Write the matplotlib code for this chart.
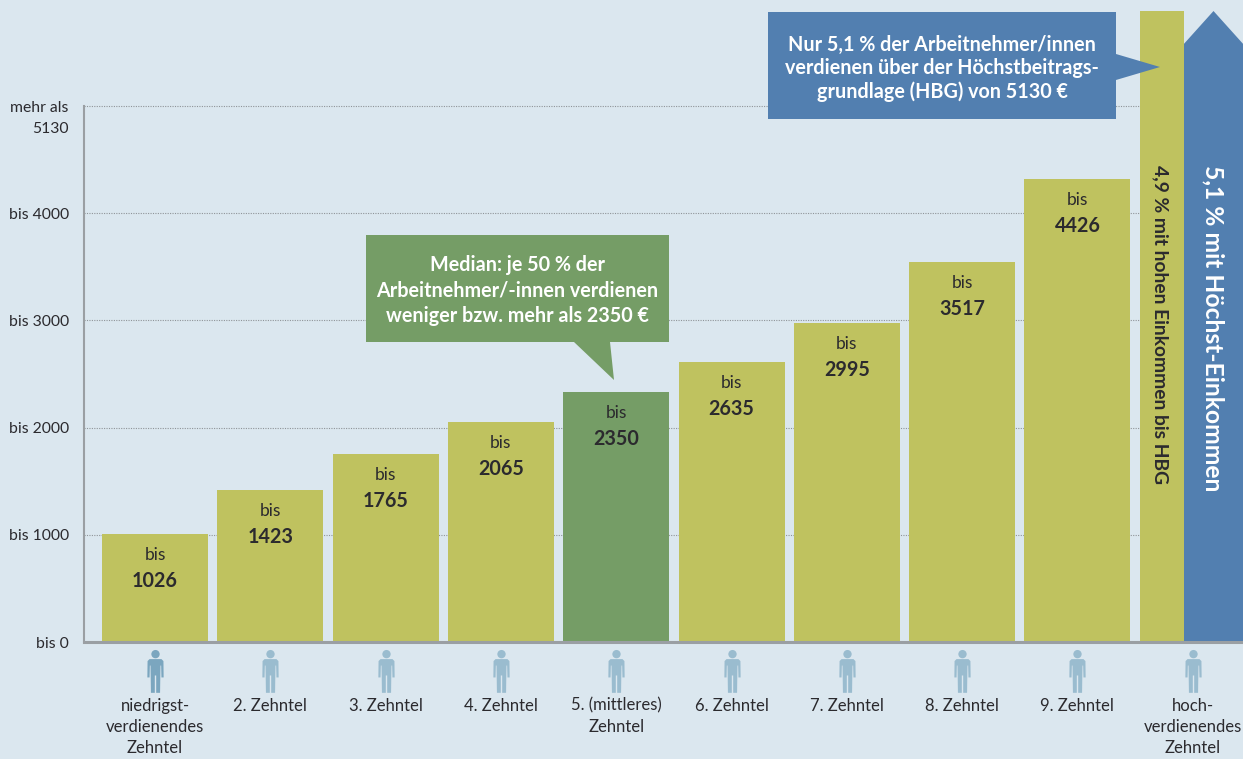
import matplotlib
matplotlib.use("Agg")
import numpy as np
import matplotlib.pyplot as plt
from matplotlib.path import Path
from matplotlib.patches import Polygon, Rectangle
from matplotlib.transforms import Affine2D, ScaledTranslation

# Daten
zehntel = ["niedrigst-\nverdienendes\nZehntel", "2. Zehntel", "3. Zehntel", "4. Zehntel",
           "5. (mittleres)\nZehntel", "6. Zehntel", "7. Zehntel", "8. Zehntel", "9. Zehntel",
           "hoch-\nverdienendes\nZehntel"]
werte = [1026, 1423, 1765, 2065, 2350, 2635, 2995, 3517, 4426]
# Balkenhoehen (weichen etwas von den Beschriftungen ab)
hoehen = [1007, 1418, 1754, 2052, 2332, 2612, 2976, 3545, 4319]
y_ticks = [0, 1000, 2000, 3000, 4000, 5000]
y_labels = ["bis 0", "bis 1000", "bis 2000", "bis 3000", "bis 4000", "mehr als\n5130"]
offen_oben = 5886
pfeil_schulter = 5580

BG = "#dbe7ef"
OLIVE = "#bfc25f"
GRUEN = "#759d66"
BLAU = "#527fb0"
GRAU = "#9a9fa3"
TEXT = "#2b2a2e"

plt.rcParams['font.family'] = ['Lato', 'DejaVu Sans']

W, H = 1243, 759
fig = plt.figure(figsize=(W / 100, H / 100), dpi=100, facecolor=BG)
ax = fig.add_axes([84 / W, (H - 642) / H, (W - 84) / W, 642 / H], facecolor=BG)

# Skalen: Spaltenabstand 115.3 px, 107.2 px pro 1000
ax.set_xlim((84 - 155) / 115.3, (W - 155) / 115.3)
ax.set_ylim(0, 642 / 107.2 * 1000)

# Pixelkoordinaten fuer Kaesten und Kommentare
px = Affine2D().scale(1, -1).translate(0, H)

x = np.arange(len(werte))
farben = [GRUEN if i == 4 else OLIVE for i in x]
ax.bar(x, hoehen, width=106 / 115.3, color=farben, zorder=2)

# hohes Zehntel: schmaler Balken plus Pfeil
links = (1140 - 155) / 115.3
mitte = (1184 - 155) / 115.3
rechts = (W - 155) / 115.3
ax.bar(links, offen_oben, width=mitte - links, align='edge', color=OLIVE, zorder=2, clip_on=False)
ax.add_patch(Polygon([(mitte, 0), (mitte, pfeil_schulter), ((mitte + rechts) / 2, offen_oben),
                      (rechts, pfeil_schulter), (rechts, 0)], closed=True, fc=BLAU, ec='none', zorder=2))

for i, w, h in zip(x, werte, hoehen):
    ax.annotate("bis", (i, h), xytext=(0, -15.2), textcoords='offset points', ha='center', va='center',
                fontsize=12.5, color=TEXT, zorder=4)
    ax.annotate(str(w), (i, h), xytext=(0, -34), textcoords='offset points', ha='center', va='center',
                fontsize=14.2, fontweight='bold', color=TEXT, zorder=4)

# Achsen
for s in ['top', 'right']:
    ax.spines[s].set_visible(False)
ax.spines['left'].set_color(GRAU)
ax.spines['left'].set_linewidth(1.5)
ax.spines['left'].set_bounds(0, 5000)
ax.spines['bottom'].set_color(GRAU)
ax.spines['bottom'].set_linewidth(2.2)
ax.spines['bottom'].set_zorder(5)
ax.set_yticks(y_ticks)
ax.set_yticklabels(y_labels, fontsize=11.3, color=TEXT, linespacing=1.55)
ax.tick_params(axis='y', length=0, pad=11)
# obere Beschriftung sitzt etwas hoeher als die Linie
oben = ax.get_yticklabels()[-1]
oben.set_va('top')
oben.set_transform(oben.get_transform() + ScaledTranslation(0, 4.5 / 100, fig.dpi_scale_trans))
ax.set_xticks(list(x) + [9])
ax.set_xticklabels(zehntel, fontsize=12, color=TEXT, linespacing=1.4)
ax.tick_params(axis='x', length=0, pad=40)
ax.grid(axis='y', color='#8f9498', linestyle=(0, (1, 1.2)), linewidth=0.8, zorder=1)
ax.set_axisbelow(True)

# Maennchen als Marker
kopf = Path.circle((0, 17.5), 4.2)
rumpf = Path([(-6, 12.5), (6, 12.5), (8, 10.5), (8.2, -6), (6, -6), (5.7, 6), (5, 6), (4.6, -21.5), (0.7, -21.5),
              (0.7, -4), (-0.7, -4), (-0.7, -21.5), (-4.6, -21.5), (-5, 6), (-5.7, 6), (-6, -6), (-8.2, -6),
              (-8, 10.5), (-6, 12.5)])
person = Path.make_compound_path(kopf, rumpf)
tr = ax.get_xaxis_transform()
for i in range(len(zehntel)):
    ax.plot(i, -0.0444, marker=person, markersize=31, color="#7ba6bf" if i == 0 else "#9abccf",
            markeredgewidth=0, transform=tr, clip_on=False, zorder=3)

# Senkrechte Beschriftungen
ax.text((links + mitte) / 2 - 0.015, offen_oben - 1440, "4,9 % mit hohen Einkommen bis HBG", rotation=-90,
        ha='center', va='top', fontsize=13.9, fontweight='bold', color=TEXT, zorder=4)
ax.text((mitte + rechts) / 2, offen_oben - 1440, "5,1 % mit Höchst-Einkommen", rotation=-90,
        ha='center', va='top', fontsize=17.7, color='white', fontweight='bold', zorder=4)

# Kommentarkaesten
def kasten(x0, y0, x1, y1, spitze, farbe, text, dy, zeilen):
    fig.add_artist(Rectangle((x0, y0), x1 - x0, y1 - y0, fc=farbe, ec='none', transform=px, zorder=6))
    fig.add_artist(Polygon(spitze, closed=True, fc=farbe, ec='none', transform=px, zorder=6))
    fig.text((x0 + x1) / 2, (y0 + y1) / 2 + dy, text, transform=px, ha='center', va='center', color='white',
             fontsize=14.2, fontweight='bold', linespacing=zeilen, zorder=7)

kasten(366, 235, 669, 342, [(574, 342), (610, 342), (614, 380)], GRUEN,
       "Median: je 50 % der\nArbeitnehmer/-innen verdienen\nweniger bzw. mehr als 2350 €", 2, 1.32)
kasten(768, 12, 1116, 119, [(1116, 54), (1116, 80), (1160, 67)], BLAU,
       "Nur 5,1 % der Arbeitnehmer/innen\nverdienen über der Höchstbeitrags-\ngrundlage (HBG) von 5130 €", 3, 1.2)

fig.savefig("out.png", dpi=100, facecolor=BG)
